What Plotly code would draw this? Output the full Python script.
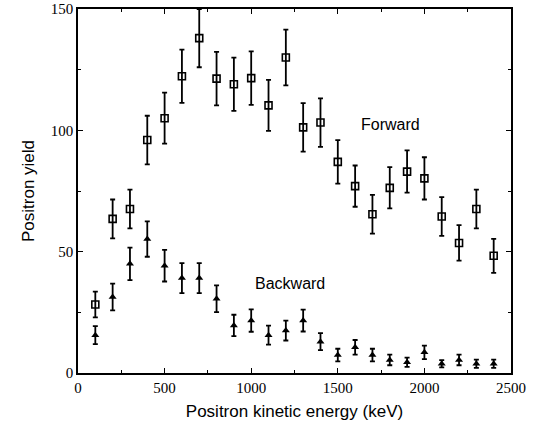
import plotly.graph_objects as go

energy = [100, 200, 300, 400, 500, 600, 700, 800, 900, 1000, 1100, 1200,
          1300, 1400, 1500, 1600, 1700, 1800, 1900, 2000, 2100, 2200, 2300, 2400]
forward = [28.2, 63.5, 67.6, 96, 105, 122.3, 138, 121.3, 119, 121.5, 110.3, 130,
           101.2, 103.2, 87, 77, 65.4, 76.3, 83, 80.2, 64.5, 53.6, 67.6, 48.3]
forward_err = [5.3, 8, 8, 10, 10.5, 11, 12, 11, 11, 11, 10.5, 11.5,
               10, 10, 9, 8.5, 8, 8.5, 8.7, 8.7, 8, 7.3, 8, 7]
backward = [15.6, 31.3, 45, 55.2, 44.2, 39.1, 39.1, 30.6, 19.6, 21.6, 15.6, 17.5,
            21.6, 12.9, 7.4, 10.6, 7.4, 5.4, 4.4, 8.5, 3.8, 5.4, 3.8, 3.8]
backward_err = [3.7, 5.5, 6.7, 7.3, 6.5, 6.2, 6.2, 5.5, 4.4, 4.6, 3.9, 4.1,
                4.5, 3.5, 2.6, 3, 2.6, 2.2, 1.9, 2.8, 1.5, 2.2, 1.7, 1.7]

SANS = "Liberation Sans"
SERIF = "Liberation Serif"

fig = go.Figure()
fig.add_trace(go.Scatter(
    x=energy, y=forward, mode="markers", name="Forward",
    marker=dict(symbol="square-open", size=7, color="black", line=dict(width=1.6, color="black")),
    error_y=dict(type="data", array=forward_err, visible=True, color="black", thickness=1.8, width=2.5),
    cliponaxis=False,
))
fig.add_trace(go.Scatter(
    x=energy, y=backward, mode="markers", name="Backward",
    marker=dict(symbol="triangle-up", size=7, color="black"),
    error_y=dict(type="data", array=backward_err, visible=True, color="black", thickness=1.8, width=2.5),
))

fig.add_annotation(x=1807, y=102.5, text="Forward", showarrow=False,
                   font=dict(family=SANS, size=16, color="black"))
fig.add_annotation(x=1224, y=36.8, text="Backward", showarrow=False,
                   font=dict(family=SANS, size=16, color="black"))

axis_common = dict(
    showgrid=False, zeroline=False, showline=True, linecolor="black", linewidth=1.5,
    mirror="allticks", ticks="inside", ticklen=5, tickwidth=1.2, tickcolor="black",
    tickfont=dict(family=SERIF, size=15, color="black"),
    ticklabeloverflow="allow", automargin=False,
)

fig.update_xaxes(
    range=[0, 2500], dtick=500, tick0=0,
    title=dict(text="Positron kinetic energy (keV)", standoff=10,
               font=dict(family=SANS, size=17, color="black")),
    minor=dict(ticks="inside", dtick=250, ticklen=3, tickwidth=1, tickcolor="black"),
    **axis_common,
)
fig.update_yaxes(
    range=[0, 150], dtick=50, tick0=0,
    title=dict(text="Positron yield", standoff=12,
               font=dict(family=SANS, size=17, color="black")),
    minor=dict(ticks="inside", dtick=25, ticklen=3, tickwidth=1, tickcolor="black"),
    **axis_common,
)

fig.update_layout(
    width=533, height=431,
    margin=dict(l=78, r=22, t=9, b=58),
    plot_bgcolor="white", paper_bgcolor="white",
    showlegend=False,
)

fig.write_html("out.html", config={"displayModeBar": False},
               post_script="document.body.style.margin='0';")
